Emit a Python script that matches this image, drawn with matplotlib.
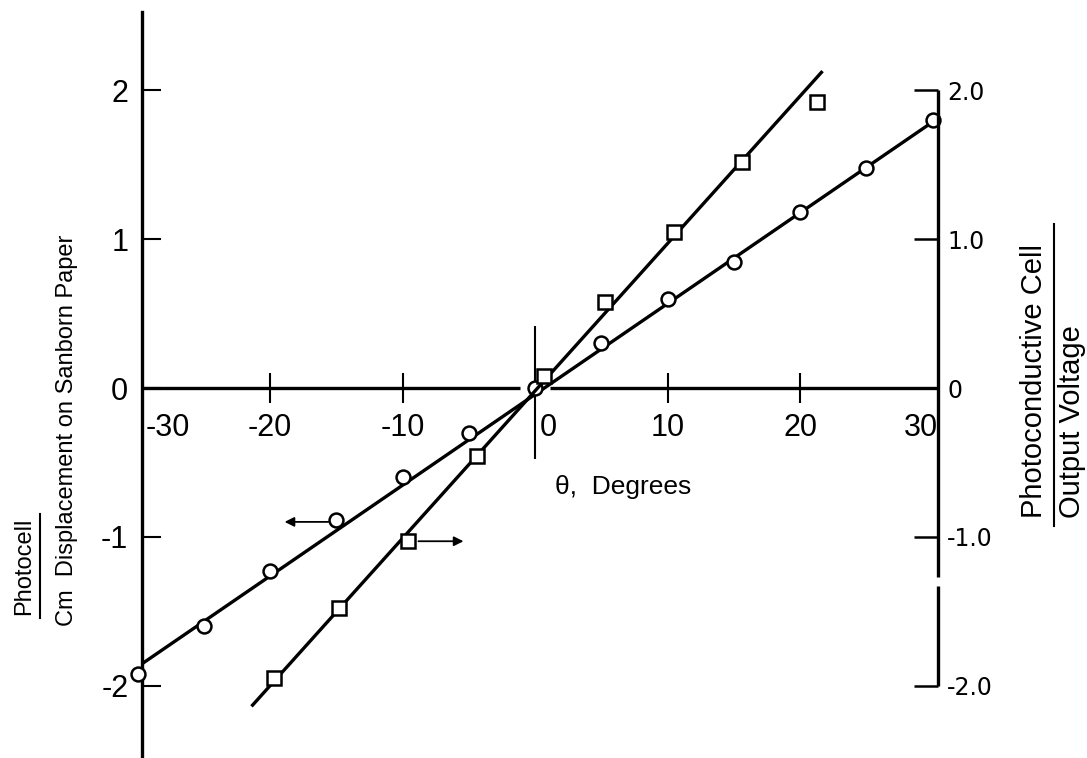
import matplotlib
matplotlib.use("Agg")
import matplotlib.pyplot as plt
from matplotlib.lines import Line2D

# circles belong to the left scale, squares to the right scale
circle_theta = [-30, -25, -20, -15, -10, -5, 0, 5, 10, 15, 20, 25, 30]
circle_cm = [-1.92, -1.60, -1.23, -0.89, -0.60, -0.30, 0.0, 0.30, 0.60, 0.85, 1.18, 1.48, 1.80]
square_theta = [-19.7, -14.8, -9.6, -4.4, 0.7, 5.3, 10.5, 15.6, 21.3]
square_volt = [-1.95, -1.48, -1.03, -0.46, 0.08, 0.58, 1.05, 1.52, 1.92]

# faired straight lines through each set
circle_fit_theta = [-29.6, 30.2]
circle_fit_cm = [-1.85, 1.80]
square_fit_theta = [-21.4, 21.7]
square_fit_volt = [-2.14, 2.13]

x_ticks = [-30, -20, -10, 0, 10, 20, 30]
left_ticks = [2, 1, 0, -1, -2]
left_labels = ["2", "1", "0", "-1", "-2"]
right_ticks = [2.0, 1.0, 0, -1.0, -2.0]
right_labels = ["2.0", "1.0", "0", "-1.0", "-2.0"]

plt.rcParams["font.family"] = ["Liberation Sans", "DejaVu Sans"]

W, H = 1087, 758
fig = plt.figure(figsize=(W / 100, H / 100), dpi=100)
ax = fig.add_axes([0, 0, 1, 1])
ax.set_xlim(-40.38, 41.66)
ax.set_ylim(-2.487, 2.608)
ax.patch.set_alpha(0)

x_left, x_right = -29.65, 30.38
lw_axis = 2.4

for s in ["top", "right", "bottom"]:
    ax.spines[s].set_visible(False)
ax.spines["left"].set_position(("data", x_left))
ax.spines["left"].set_bounds(-2.6, 2.53)
ax.spines["left"].set_linewidth(lw_axis)
ax.spines["bottom"].set_position(("data", 0))

ax.set_yticks(left_ticks)
ax.set_yticklabels(left_labels)
ax.tick_params(axis="y", direction="in", length=14, width=1.5, pad=10, labelsize=22)

# small crossing ticks on the theta axis, labels set by hand below
ax.set_xticks([-20, -10, 10, 20])
ax.set_xticklabels([])
ax.tick_params(axis="x", direction="inout", length=22, width=1.5)

# theta axis, broken around the origin point
ax.hlines([0, 0], [x_left, 1.1], [-1.1, x_right], color="black", lw=lw_axis)
ax.vlines(0, -0.48, 0.42, color="black", lw=1.5)

nudge = {-30: 2.3, 0: 1.0, 30: -0.9}
for t in x_ticks:
    ax.text(t + nudge.get(t, 0), -0.27, str(t), ha="center", va="center", fontsize=22)

ax.text(1.5, -0.665, "θ,  Degrees", ha="left", va="center", fontsize=19)

# right scale
ax2 = ax.twinx()
ax2.set_ylim(ax.get_ylim())
for s in ["top", "left", "bottom"]:
    ax2.spines[s].set_visible(False)
ax2.spines["right"].set_position(("data", x_right))
ax2.spines["right"].set_visible(False)
ax2.vlines([x_right, x_right], [-2.0, -1.27], [-1.33, 2.0], color="black", lw=lw_axis)
ax2.set_yticks(right_ticks)
ax2.set_yticklabels(right_labels, family=["DejaVu Sans"])
ax2.tick_params(axis="y", direction="in", length=17, width=1.8, pad=7, labelsize=17)

# data
ax.plot(circle_fit_theta, circle_fit_cm, color="black", lw=2.4, solid_capstyle="butt")
ax2.plot(square_fit_theta, square_fit_volt, color="black", lw=2.4, solid_capstyle="butt")
ax.plot(circle_theta, circle_cm, "o", ms=10, mfc="white", mec="black", mew=1.8, zorder=4)
ax2.plot(square_theta, square_volt, "s", ms=9.5, mfc="white", mec="black", mew=1.8, zorder=4)

arrow = dict(arrowstyle="-|>", lw=1.3, color="black", mutation_scale=14, shrinkA=0, shrinkB=0)
ax.annotate("", xy=(-18.9, -0.90), xytext=(-15.6, -0.90), arrowprops=arrow)
ax2.annotate("", xy=(-5.4, -1.03), xytext=(-8.8, -1.03), arrowprops=arrow)

# axis titles
fig.text(67 / W, 1 - 430 / H, "Cm  Displacement on Sanborn Paper",
         rotation=90, ha="center", va="center", fontsize=17)
fig.text(24 / W, 1 - 566 / H, "Photocell", rotation=90, ha="center", va="center", fontsize=17)
fig.add_artist(Line2D([40 / W, 40 / W], [1 - 618 / H, 1 - 514 / H], color="black", lw=1.5))

fig.text(1034 / W, 1 - 518 / H, "Photoconductive Cell",
         rotation=90, ha="center", va="bottom", fontsize=21)
fig.text(1072 / W, 1 - 518 / H, "Output Voltage",
         rotation=90, ha="center", va="bottom", fontsize=21)
fig.add_artist(Line2D([1054 / W, 1054 / W], [1 - 526 / H, 1 - 224 / H], color="black", lw=1.5))

fig.savefig("out.png", dpi=100, facecolor="white")
